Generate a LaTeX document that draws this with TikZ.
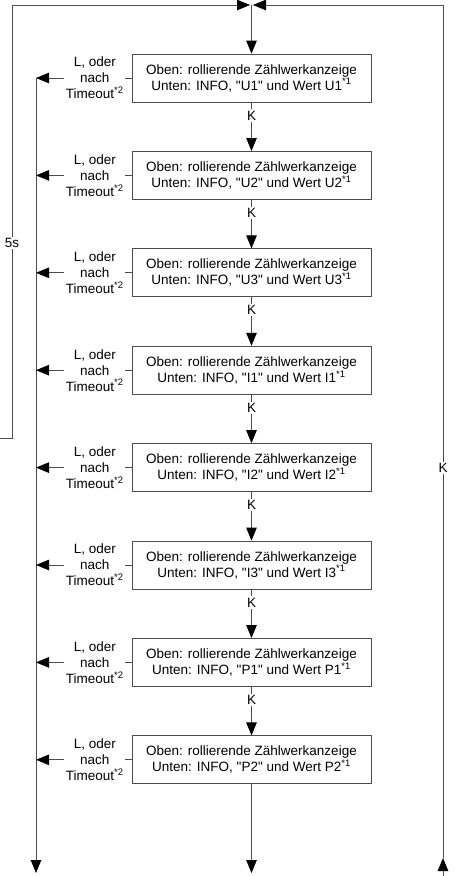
\documentclass[tikz,border=0pt]{standalone}
\usepackage{fontspec}
\setmainfont{Liberation Sans}[Ligatures=TeXOff]
\usetikzlibrary{arrows.meta,positioning}
\definecolor{LineClr}{rgb}{0.3,0.3,0.3}

\tikzset{
  anzeige/.style={draw=LineClr,line width=0.8pt,minimum width=239pt,minimum height=48pt,
    align=center,inner sep=2pt,font=\fontsize{13.5}{16}\selectfont},
  fluss/.style={draw=LineClr,line width=0.8pt,-{Triangle[length=13pt,width=10.5pt,color=black]}},
  lbl/.style={fill=white,inner sep=1.5pt,align=center,font=\fontsize{13.5}{16}\selectfont},
}

\begin{document}
\begin{tikzpicture}[x=1pt,y=-1pt]
\useasboundingbox (0,0) rectangle (455,876);

\coordinate (EinL) at (0,438);
\coordinate (LinksO) at (12,5);
\coordinate (TopM) at (251.5,5);
\coordinate (RechtsO) at (443,5);
\coordinate (RechtsU) at (443,858);
\coordinate (EinR) at (443,876);
\coordinate (LinksU) at (36,873);
\coordinate (MitteU) at (251.5,873);

% Anzeigen
\node[anzeige] (AnzU1) at (251.5,78) {Oben: rollierende Zählwerkanzeige\\Unten: INFO, "U1" und Wert U1\textsuperscript{*1}};
\node[anzeige,below=48.6pt of AnzU1] (AnzU2) {Oben: rollierende Zählwerkanzeige\\Unten: INFO, "U2" und Wert U2\textsuperscript{*1}};
\node[anzeige,below=48.6pt of AnzU2] (AnzU3) {Oben: rollierende Zählwerkanzeige\\Unten: INFO, "U3" und Wert U3\textsuperscript{*1}};
\node[anzeige,below=48.6pt of AnzU3] (AnzI1) {Oben: rollierende Zählwerkanzeige\\Unten: INFO, "I1" und Wert I1\textsuperscript{*1}};
\node[anzeige,below=48.6pt of AnzI1] (AnzI2) {Oben: rollierende Zählwerkanzeige\\Unten: INFO, "I2" und Wert I2\textsuperscript{*1}};
\node[anzeige,below=48.6pt of AnzI2] (AnzI3) {Oben: rollierende Zählwerkanzeige\\Unten: INFO, "I3" und Wert I3\textsuperscript{*1}};
\node[anzeige,below=48.6pt of AnzI3] (AnzP1) {Oben: rollierende Zählwerkanzeige\\Unten: INFO, "P1" und Wert P1\textsuperscript{*1}};
\node[anzeige,below=48.6pt of AnzP1] (AnzP2) {Oben: rollierende Zählwerkanzeige\\Unten: INFO, "P2" und Wert P2\textsuperscript{*1}};

% Eingaenge oben
\draw[fluss] (EinL) -- (LinksO |- EinL) -- node[lbl,pos=0.45]{5s} (LinksO) -- ([xshift=-1.5pt]TopM);
\draw[fluss] (EinR) -- (RechtsU);
\draw[fluss] (RechtsU) -- node[lbl,pos=0.457]{K} (RechtsO) -- ([xshift=1.5pt]TopM);
\draw[fluss] (TopM) -- (AnzU1.north);

% Weiter mit K
\draw[fluss] (AnzU1.south) -- node[lbl,pos=0.27]{K} (AnzU2.north);
\draw[fluss] (AnzU2.south) -- node[lbl,pos=0.27]{K} (AnzU3.north);
\draw[fluss] (AnzU3.south) -- node[lbl,pos=0.27]{K} (AnzI1.north);
\draw[fluss] (AnzI1.south) -- node[lbl,pos=0.27]{K} (AnzI2.north);
\draw[fluss] (AnzI2.south) -- node[lbl,pos=0.27]{K} (AnzI3.north);
\draw[fluss] (AnzI3.south) -- node[lbl,pos=0.27]{K} (AnzP1.north);
\draw[fluss] (AnzP1.south) -- node[lbl,pos=0.27]{K} (AnzP2.north);
\draw[fluss] (AnzP2.south) -- (MitteU);

% Abbruch nach links
\draw[fluss] (AnzU1.west -| LinksU) -- (LinksU);
\draw[fluss] (AnzU1.west) -- node[lbl,pos=0.385]{L, oder\\nach\\Timeout\textsuperscript{*2}} (AnzU1.west -| LinksU);
\draw[fluss] (AnzU2.west) -- node[lbl,pos=0.385]{L, oder\\nach\\Timeout\textsuperscript{*2}} (AnzU2.west -| LinksU);
\draw[fluss] (AnzU3.west) -- node[lbl,pos=0.385]{L, oder\\nach\\Timeout\textsuperscript{*2}} (AnzU3.west -| LinksU);
\draw[fluss] (AnzI1.west) -- node[lbl,pos=0.385]{L, oder\\nach\\Timeout\textsuperscript{*2}} (AnzI1.west -| LinksU);
\draw[fluss] (AnzI2.west) -- node[lbl,pos=0.385]{L, oder\\nach\\Timeout\textsuperscript{*2}} (AnzI2.west -| LinksU);
\draw[fluss] (AnzI3.west) -- node[lbl,pos=0.385]{L, oder\\nach\\Timeout\textsuperscript{*2}} (AnzI3.west -| LinksU);
\draw[fluss] (AnzP1.west) -- node[lbl,pos=0.385]{L, oder\\nach\\Timeout\textsuperscript{*2}} (AnzP1.west -| LinksU);
\draw[fluss] (AnzP2.west) -- node[lbl,pos=0.385]{L, oder\\nach\\Timeout\textsuperscript{*2}} (AnzP2.west -| LinksU);

\end{tikzpicture}
\end{document}
